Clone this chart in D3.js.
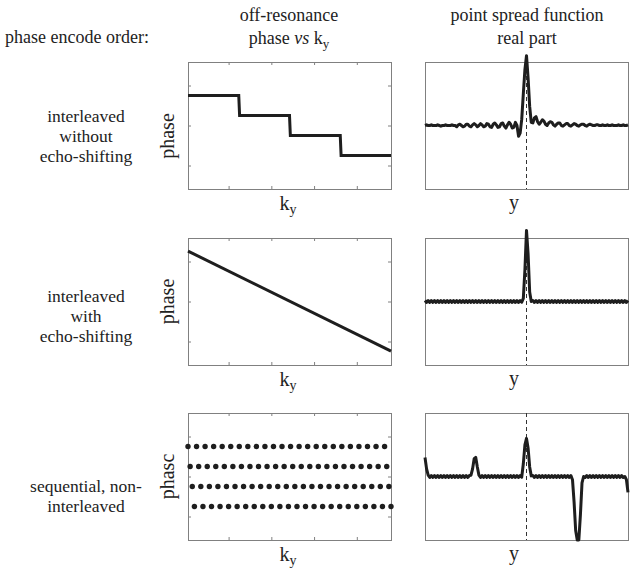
<!DOCTYPE html>
<html>
<head>
<meta charset="utf-8">
<script src="https://cdn.jsdelivr.net/npm/d3@7"></script>
<style>
  body { margin: 0; background: #fff; }
  text { font-family: "Liberation Serif", "Times New Roman", serif; fill: #222; }
</style>
</head>
<body>
<div id="chart"></div>
<script>
// row labels (phase encode order)
const rowLabels = [
  ["interleaved", "without", "echo-shifting"],
  ["interleaved", "with", "echo-shifting"],
  ["sequential, non-", "interleaved"]
];

// left column: phase vs ky
const kyDomain = [1, 96];
const kyTicks = [20, 40, 60, 80];
const phaseTicks = [-1, 0, 1];
const stepKy = [1, 24.75, 25.15, 48.5, 48.9, 72.25, 72.65, 96];
const stepPhase = [0.75, 0.75, 0.25, 0.25, -0.25, -0.25, -0.75, -0.75];
const rampKy = [1, 96];
const rampPhase = [1.26, -1.24];
const seqLines = 96;                       // ky lines, acquired in 4 segments
const seqPhase = [0.75, 0.25, -0.25, -0.75]; // phase of each segment

// right column: PSF real part, sampled at y = -64..64
const psfPos = d3.range(-64, 65);
const psf1 = [
  0, 0.01, 0, 0, 0.01, 0, 0, 0, 0.01, 0,
  -0.01, 0, 0, 0.01, 0, 0, 0, 0.01, 0, 0,
  -0.02, 0.01, 0.02, 0, -0.02, -0.01, 0.02, 0.02, -0.01, -0.02,
  0.01, 0.03, 0.01, -0.02, 0, 0.03, 0.01, -0.02, -0.01, 0.03,
  0.02, -0.02, -0.03, 0.02, 0.04, 0.01, -0.03, -0.02, 0.03, 0.04,
  -0.01, -0.04, 0.01, 0.05, 0.02, -0.04, -0.03, 0.05, 0, -0.17,
  -0.12, 0.1, 0.5, 0.88, 1.1, 0.75, 0.3, 0.05, 0.04, 0.12,
  0.14, 0.06, 0.02, 0.05, 0.09, 0.07, 0.02, 0, 0.04, 0.06,
  0.05, 0.01, -0.01, 0.02, 0.04, 0.04, 0, -0.01, 0.01, 0.03,
  0.03, 0, -0.01, 0.01, 0.03, 0.02, 0, -0.01, 0.01, 0.02,
  0.02, 0, -0.01, 0.01, 0.02, 0.01, 0, 0, 0.01, 0.01,
  0, 0, 0.01, 0, 0, 0.01, 0, 0, 0.01, 0,
  0, 0, 0.01, 0, 0, 0.01, 0, 0, 0.01
];
const psf2 = [
  0.015, -0.015, 0.015, -0.015, 0.015, -0.015, 0.015, -0.015, 0.015, -0.015,
  0.015, -0.015, 0.015, -0.015, 0.015, -0.015, 0.015, -0.015, 0.015, -0.015,
  0.015, -0.015, 0.015, -0.015, 0.015, -0.015, 0.015, -0.015, 0.015, -0.015,
  0.015, -0.015, 0.015, -0.015, 0.015, -0.015, 0.015, -0.015, 0.015, -0.015,
  0.015, -0.015, 0.015, -0.015, 0.015, -0.015, 0.015, -0.015, 0.015, -0.015,
  0.015, -0.015, 0.015, -0.015, 0.015, -0.015, 0.015, -0.015, 0.015, -0.015,
  0.015, -0.01, 0.05, 0.5, 1.12, 0.75, 0.15, 0, 0.015, -0.015,
  0.015, -0.015, 0.015, -0.015, 0.015, -0.015, 0.015, -0.015, 0.015, -0.015,
  0.015, -0.015, 0.015, -0.015, 0.015, -0.015, 0.015, -0.015, 0.015, -0.015,
  0.015, -0.015, 0.015, -0.015, 0.015, -0.015, 0.015, -0.015, 0.015, -0.015,
  0.015, -0.015, 0.015, -0.015, 0.015, -0.015, 0.015, -0.015, 0.015, -0.015,
  0.015, -0.015, 0.015, -0.015, 0.015, -0.015, 0.015, -0.015, 0.015, -0.015,
  0.015, -0.015, 0.015, -0.015, 0.015, -0.015, 0.015, -0.015, 0.015
];
const psf3 = [
  0.3, 0.12, 0.02, -0.015, 0.015, -0.015, 0.015, -0.015, 0.015, -0.015,
  0.015, -0.015, 0.015, -0.015, 0.015, -0.015, 0.015, -0.015, 0.015, -0.015,
  0.015, -0.015, 0.015, -0.015, 0.015, -0.015, 0.015, -0.015, 0.015, 0.02,
  0.12, 0.28, 0.3, 0.15, 0.02, -0.015, 0.015, -0.015, 0.015, -0.015,
  0.015, -0.015, 0.015, -0.015, 0.015, -0.015, 0.015, -0.015, 0.015, -0.015,
  0.015, -0.015, 0.015, -0.015, 0.015, -0.015, 0.015, -0.015, 0.015, -0.015,
  0.015, -0.01, 0.2, 0.5, 0.6, 0.45, 0.15, 0.01, 0.015, -0.015,
  0.015, -0.015, 0.015, -0.015, 0.015, -0.015, 0.015, -0.015, 0.015, -0.015,
  0.015, -0.015, 0.015, -0.015, 0.015, -0.015, 0.015, -0.015, 0.015, -0.015,
  0.015, -0.015, 0.015, -0.05, -0.4, -0.85, -1.0, -1.0, -0.6, -0.1,
  0, -0.015, 0.015, -0.015, 0.015, -0.015, 0.015, -0.015, 0.015, -0.015,
  0.015, -0.015, 0.015, -0.015, 0.015, -0.015, 0.015, -0.015, 0.015, -0.015,
  0.015, -0.015, 0.015, -0.015, 0.015, -0.015, 0, -0.05, -0.25
];
const psfRows = [psf1, psf2, psf3];

const width = 638, height = 576;
const rowTop = [62, 238, 413];
const boxH = 127;
const leftBox = [188, 391];
const rightBox = [425, 628];
const ink = "#1e1e1e", frame = "#808080";

const svg = d3.select("#chart").append("svg")
  .attr("width", width).attr("height", height)
  .attr("viewBox", [0, 0, width, height]);

// headers
const hdr = svg.append("g").attr("font-size", 18).attr("text-anchor", "middle");
hdr.append("text").attr("x", 5).attr("y", 43).attr("text-anchor", "start").text("phase encode order:");
hdr.append("text").attr("x", 289).attr("y", 21).text("off-resonance");
const h2 = hdr.append("text").attr("x", 289).attr("y", 44);
h2.append("tspan").text("phase ");
h2.append("tspan").attr("font-style", "italic").text("vs");
h2.append("tspan").text(" k");
h2.append("tspan").attr("font-size", 13).attr("dy", 4).text("y");
hdr.append("text").attr("x", 527).attr("y", 21).text("point spread function");
hdr.append("text").attr("x", 527).attr("y", 44).text("real part");

// row labels
const rowLabelY = [122, 302, 492];
rowLabels.forEach((lines, r) => {
  svg.append("text")
    .attr("font-size", 17.5).attr("text-anchor", "middle")
    .selectAll("tspan").data(lines).join("tspan")
    .attr("x", 86).attr("y", (d, i) => rowLabelY[r] + i * 20)
    .text(d => d);
});

const ptsPhaseY = d3.range(3).map(r => d3.scaleLinear().domain([-1.5875, 1.5875]).range([rowTop[r] + boxH, rowTop[r]]));
const x = d3.scaleLinear().domain(kyDomain).range(leftBox);
const xp = d3.scaleLinear().domain([-64, 64]).range(rightBox);

function boxAxes(g, r) {
  const y = ptsPhaseY[r];
  const top = rowTop[r], bot = rowTop[r] + boxH;
  const style = sel => {
    sel.select(".domain").remove();
    sel.selectAll("line").attr("stroke", frame);
  };
  g.append("g").attr("transform", `translate(0,${bot})`)
    .call(d3.axisBottom(x).tickValues(kyTicks).tickSize(-3).tickFormat("")).call(style);
  g.append("g").attr("transform", `translate(0,${top})`)
    .call(d3.axisTop(x).tickValues(kyTicks).tickSize(-3).tickFormat("")).call(style);
  g.append("g").attr("transform", `translate(${leftBox[0]},0)`)
    .call(d3.axisLeft(y).tickValues(phaseTicks).tickSize(-3).tickFormat("")).call(style);
  g.append("g").attr("transform", `translate(${leftBox[1]},0)`)
    .call(d3.axisRight(y).tickValues(phaseTicks).tickSize(-3).tickFormat("")).call(style);
  g.append("rect")
    .attr("x", leftBox[0] + 0.5).attr("y", top + 0.5)
    .attr("width", leftBox[1] - leftBox[0]).attr("height", boxH)
    .attr("fill", "none").attr("stroke", frame);
  // labels
  g.append("text").attr("font-size", 20).attr("text-anchor", "middle")
    .attr("transform", `translate(174,${r === 0 ? 136 : top + boxH / 2}) rotate(-90)`)
    .text(r === 2 ? "phasc" : "phase");
  const kl = g.append("text").attr("font-size", 20).attr("text-anchor", "middle")
    .attr("x", 288).attr("y", bot + 21);
  kl.append("tspan").text("k");
  kl.append("tspan").attr("font-size", 14).attr("dy", 4).text("y");
}

// left column
for (let r = 0; r < 3; r++) {
  const g = svg.append("g");
  boxAxes(g, r);
  const y = ptsPhaseY[r];
  const line = d3.line().x(d => x(d[0])).y(d => y(d[1]));
  if (r === 0) {
    g.append("path").datum(d3.zip(stepKy, stepPhase))
      .attr("d", line).attr("fill", "none").attr("stroke", ink).attr("stroke-width", 3);
  } else if (r === 1) {
    g.append("path").datum(d3.zip(rampKy, rampPhase))
      .attr("d", line).attr("fill", "none").attr("stroke", ink).attr("stroke-width", 3);
  } else {
    const dots = d3.range(seqLines).map(i => [i + 1, seqPhase[i % 4]]);
    g.selectAll("circle").data(dots).join("circle")
      .attr("cx", d => x(d[0])).attr("cy", d => y(d[1]))
      .attr("r", 2.7).attr("fill", ink);
  }
}

// right column
psfRows.forEach((vals, r) => {
  const top = rowTop[r], bot = rowTop[r] + boxH;
  const y = d3.scaleLinear().domain([-1, 1]).range([bot, top]);
  const g = svg.append("g");
  g.append("rect")
    .attr("x", rightBox[0] + 0.5).attr("y", top + 0.5)
    .attr("width", rightBox[1] - rightBox[0]).attr("height", boxH)
    .attr("fill", "none").attr("stroke", frame);
  g.append("line")
    .attr("x1", xp(0)).attr("x2", xp(0)).attr("y1", top).attr("y2", bot)
    .attr("stroke", "#333").attr("stroke-dasharray", "4,3");
  g.append("path").datum(d3.zip(psfPos, vals))
    .attr("d", d3.line().x(d => xp(d[0])).y(d => y(d[1])))
    .attr("fill", "none").attr("stroke", ink).attr("stroke-width", 3)
    .attr("stroke-linejoin", "round");
  g.append("text").attr("font-size", 20).attr("text-anchor", "middle")
    .attr("x", 514).attr("y", bot + 20).text("y");
});
</script>
</body>
</html>
